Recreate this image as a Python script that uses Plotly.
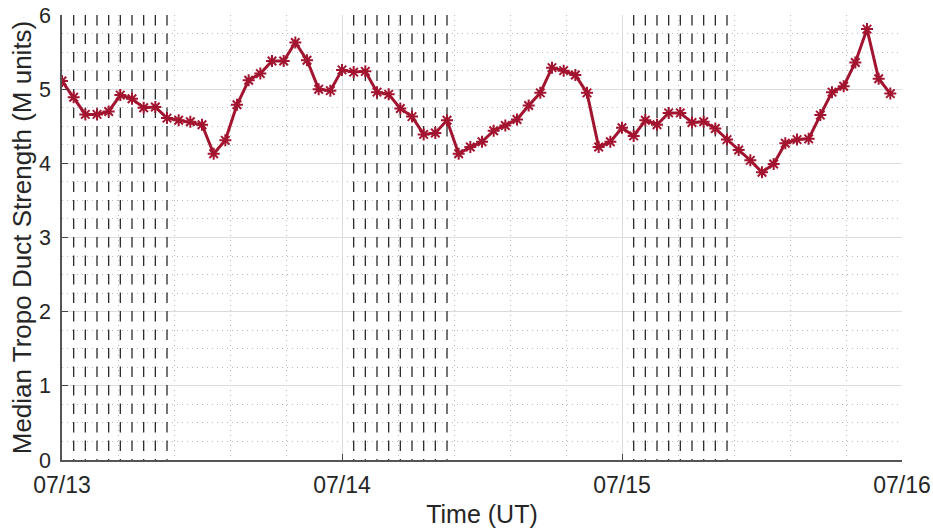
import plotly.graph_objects as go
import pandas as pd

# ---- data ----
start_time = "2023-07-13 00:00"
n_hours = 72
duct_strength = [
    5.11, 4.89, 4.66, 4.66, 4.70, 4.92, 4.87, 4.75, 4.76, 4.61,
    4.58, 4.56, 4.52, 4.13, 4.31, 4.79, 5.12, 5.21, 5.38, 5.38,
    5.63, 5.39, 5.00, 4.98, 5.26, 5.23, 5.24, 4.96, 4.93, 4.74,
    4.63, 4.39, 4.41, 4.58, 4.13, 4.22, 4.29, 4.44, 4.51, 4.59,
    4.78, 4.95, 5.29, 5.25, 5.19, 4.95, 4.22, 4.29, 4.48, 4.37,
    4.58, 4.52, 4.68, 4.68, 4.55, 4.56, 4.47, 4.32, 4.18, 4.04,
    3.88, 3.99, 4.27, 4.32, 4.33, 4.65, 4.96, 5.04, 5.36, 5.81,
    5.14, 4.94,
]
event_days = ["2023-07-13", "2023-07-14", "2023-07-15"]
event_hours = [1, 2, 3, 4, 5, 6, 7, 8, 9]
y_range = [0, 6]
x_range = ["2023-07-13", "2023-07-16"]
tick_days = ["2023-07-13", "2023-07-14", "2023-07-15", "2023-07-16"]
tick_labels = ["07/13", "07/14", "07/15", "07/16"]

times = pd.date_range(start_time, periods=n_hours, freq="h")

# event vertical lines (top to bottom, separated by None)
ev_x, ev_y = [], []
for d in event_days:
    for h in event_hours:
        t = pd.Timestamp(d) + pd.Timedelta(hours=h)
        ev_x += [t, t, None]
        ev_y += [y_range[1], y_range[0], None]

fig = go.Figure()
fig.add_trace(go.Scatter(
    x=ev_x, y=ev_y, mode="lines",
    line=dict(color="#2a2a2a", width=1.3, dash="10.5px,8px"),
    hoverinfo="skip", showlegend=False,
))
fig.add_trace(go.Scatter(
    x=times, y=duct_strength, mode="lines+markers",
    line=dict(color="#A2142F", width=3),
    marker=dict(symbol="asterisk-open", size=10,
                line=dict(color="#A2142F", width=2)),
    showlegend=False,
))

font_family = "Liberation Sans, Arial, sans-serif"
axis_color = "#262626"
minor_dash = "1px,4px"

fig.update_layout(
    width=933, height=528,
    margin=dict(l=62, r=31, t=15, b=68),
    paper_bgcolor="white", plot_bgcolor="white",
    font=dict(family=font_family, color=axis_color, size=23),
    xaxis=dict(
        type="date", range=x_range, automargin=False,
        tickmode="array", tickvals=tick_days, ticktext=tick_labels,
        ticks="inside", ticklen=6, tickcolor="#444444",
        showline=True, linecolor="#555555", linewidth=1.5,
        showgrid=True, gridcolor="#DCDCDC", gridwidth=1,
        zeroline=False,
        minor=dict(dtick=4.8 * 3600 * 1000, showgrid=True,
                   gridcolor="#B8B8B8", griddash=minor_dash, gridwidth=1,
                   ticks=""),
        tickfont=dict(size=23, color=axis_color),
        ticklabelstandoff=4,
        title=dict(text="Time (UT)", font=dict(size=25, color=axis_color),
                   standoff=12),
    ),
    yaxis=dict(
        range=y_range, dtick=1, tick0=0, automargin=False,
        ticks="inside", ticklen=6, tickcolor="#444444",
        showline=True, linecolor="#555555", linewidth=1.5,
        showgrid=True, gridcolor="#DCDCDC", gridwidth=1,
        zeroline=False,
        minor=dict(dtick=0.25, showgrid=True, gridcolor="#B8B8B8",
                   griddash=minor_dash, gridwidth=1, ticks=""),
        tickfont=dict(size=21.5, color=axis_color),
        ticklabelstandoff=5,
        title=dict(text="Median Tropo Duct Strength (M units)",
                   font=dict(size=26, color=axis_color), standoff=0),
    ),
)

fig.write_html("out.html", config={"displayModeBar": False},
               post_script="document.body.style.margin='0';")
